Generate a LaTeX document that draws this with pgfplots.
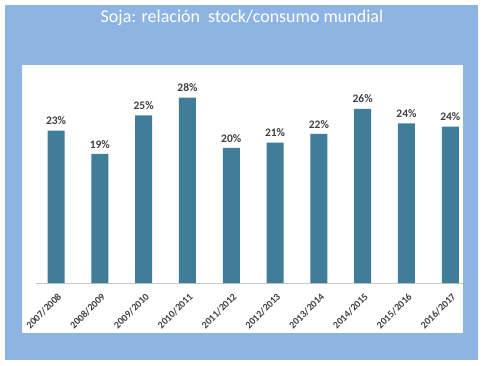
\documentclass[border=0pt]{standalone}
\usepackage{pgfplots}
\pgfplotsset{compat=1.18}
\usepackage{pgfplotstable}
\usepackage{fontspec}
\setmainfont{Carlito}
\definecolor{bgblue}{RGB}{141,180,226}
\definecolor{barteal}{RGB}{63,125,152}
\definecolor{lblgray}{RGB}{64,64,64}
\definecolor{axgray}{RGB}{200,200,200}
\pgfplotstableread{
x val lbl
0 23.0 23
1 19.5 19
2 25.3 25
3 28.0 28
4 20.4 20
5 21.2 21
6 22.5 22
7 26.3 26
8 24.1 24
9 23.6 24
}\datatable
\begin{document}
\begin{tikzpicture}[x=1pt,y=1pt]
\fill[white] (0,0) rectangle (484,365);
\fill[bgblue] (5,5) rectangle (478,360);
\fill[white] (22,32) rectangle (463,300);
\begin{axis}[
  anchor=south west, at={(36pt,82pt)},
  scale only axis, width=427pt, height=212pt,
  xmin=-0.457, xmax=9.29, ymin=0, ymax=32,
  axis lines*=left,
  axis y line=none,
  x axis line style={axgray, line width=0.8pt, -},
  xtick=data,
  xticklabels={2007/2008,2008/2009,2009/2010,2010/2011,2011/2012,2012/2013,2013/2014,2014/2015,2015/2016,2016/2017},
  xticklabel style={xshift=1pt, yshift=-8pt, rotate=45, anchor=north east, font=\fontsize{10}{11}\selectfont\bfseries, text=lblgray, inner sep=1pt},
  major tick length=0pt,
  ybar, bar width=17pt,
  nodes near coords={\pgfplotspointmeta\%},
  point meta=explicit symbolic,
  every node near coord/.append style={font=\fontsize{11.5}{12}\selectfont\bfseries, text=lblgray, inner sep=2.5pt, yshift=3pt},
]
\addplot[fill=barteal, draw=none] table[x=x, y=val, meta=lbl] {\datatable};
\end{axis}
\node[text=white, font=\fontsize{18}{20}\selectfont] at (242,347) {Soja: relación\ \ stock/consumo mundial};
\end{tikzpicture}
\end{document}
